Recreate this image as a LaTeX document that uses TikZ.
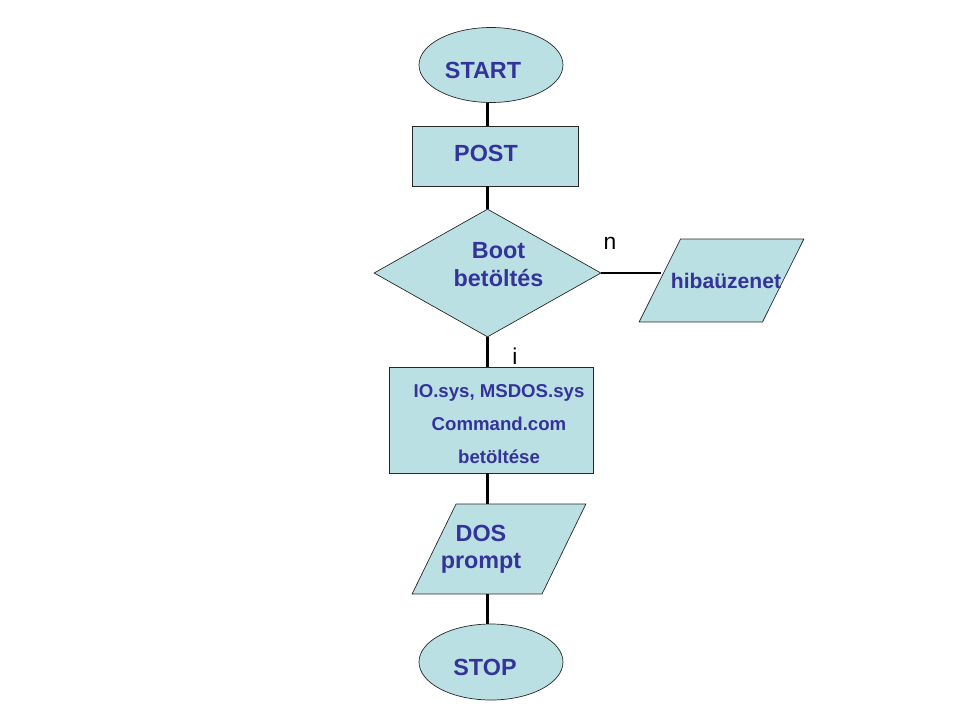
\documentclass[tikz,border=0pt]{standalone}
\usepackage{fontspec}
\setmainfont{Liberation Sans}
\usepackage{xcolor}
\usetikzlibrary{shapes,positioning}
\definecolor{boxfill}{RGB}{187,224,227}
\definecolor{textblue}{RGB}{51,51,153}
\definecolor{edgegray}{RGB}{40,40,40}

\begin{document}
\begin{tikzpicture}[
    x=0.02cm, y=-0.02cm,
    terminal/.style={ellipse, draw=edgegray, fill=boxfill, minimum width=2.88cm, minimum height=1.5cm, inner sep=0pt},
    process/.style={rectangle, draw=edgegray, fill=boxfill, inner sep=0pt},
    decision/.style={diamond, draw=edgegray, fill=boxfill, minimum width=4.54cm, minimum height=2.56cm, inner sep=0pt},
    io/.style={trapezium, trapezium left angle=63.5, trapezium right angle=116.5, trapezium stretches body=true, draw=edgegray, fill=boxfill, minimum size=0pt},
    label/.style={align=center, inner sep=0pt, text=textblue, font=\fontsize{13.3}{15.9}\selectfont\bfseries},
    link/.style={line width=1.7pt, black},
    branch/.style={font=\fontsize{13}{15}\selectfont, text=black}
]
\useasboundingbox (0,0) rectangle (960,720);

% Shapes
\node[terminal] (start) at (491, 65) {};
\node[process, minimum width=3.32cm, minimum height=1.2cm] (post) at (495, 156) {};
\node[decision] (boot) at (487.5, 273) {};
\node[io, inner xsep=0.82cm, inner ysep=0.83cm] (hiba) at (721.5, 280.5) {};
\node[process, minimum width=4.08cm, minimum height=2.12cm] (load) at (491, 420) {};
\node[io, inner xsep=0.86cm, inner ysep=0.9cm, trapezium left angle=64, trapezium right angle=116] (dos) at (499, 549) {};
\node[terminal, minimum height=1.52cm] (stop) at (491, 662) {};

% Texts
\node[label] (starttext) at ([shift={(-8,5)}]start) {START};
\node[label] (posttext) at ([shift={(-9,-3)}]post) {POST};
\node[label] (boottext) at ([shift={(11,-8.5)}]boot) {Boot\\betöltés};
\node[label, font=\fontsize{12}{14}\selectfont\bfseries] (hibatext) at ([shift={(4.5,0)}]hiba) {hibaüzenet};
\node[label, font=\fontsize{10.6}{19}\selectfont\bfseries] (loadtext) at ([shift={(8,4)}]load) {IO.sys, MSDOS.sys\\Command.com\\betöltése};
\node[label, font=\fontsize{13.3}{15.3}\selectfont\bfseries] (dostext) at ([shift={(-18,0)}]dos) {DOS\\prompt};
\node[label] (stoptext) at ([shift={(-6,5)}]stop) {STOP};

% Connectors
\draw[link] (start.south -| boot.north) -- (post.north -| boot.north);
\draw[link] (post.south -| boot.north) -- (boot.north);
\draw[link] (boot.south) -- (load.north -| boot.south);
\draw[link] (load.south -| boot.south) -- (dos.north -| boot.south);
\draw[link] (dos.south -| boot.south) -- (stop.north -| boot.south);
\draw[link] (boot.east) -- ([xshift=1]boot.east -| hiba.west);

% Branch labels
\node[branch] (lbln) at (610, 243) {n};
\node[branch] (lbli) at (515, 356) {i};

\end{tikzpicture}
\end{document}
